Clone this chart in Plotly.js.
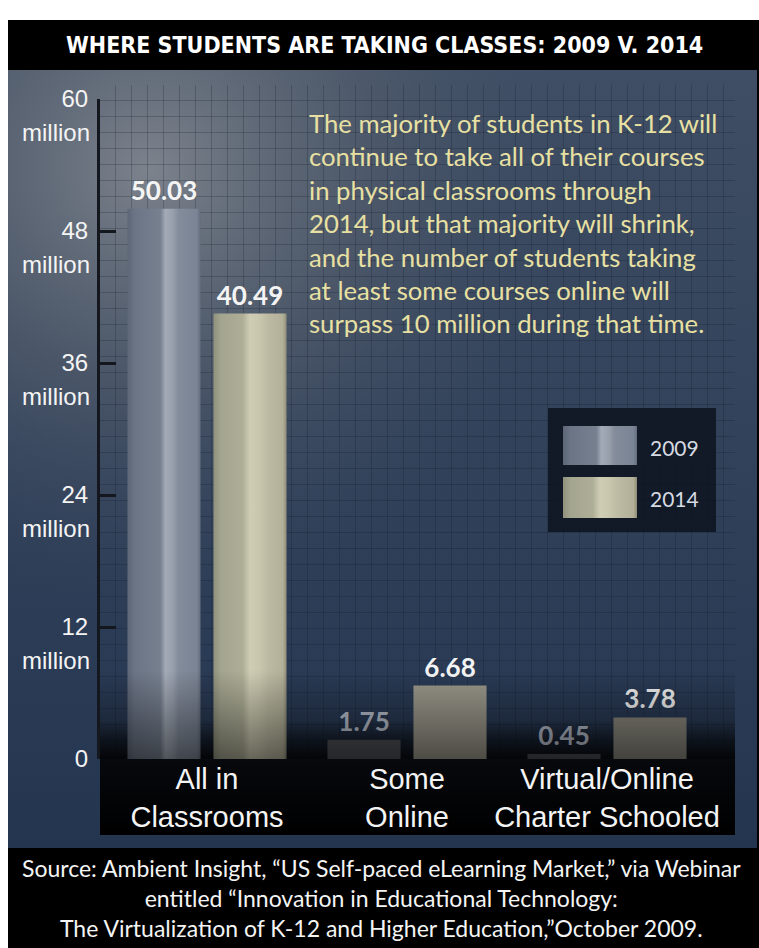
<!DOCTYPE html>
<html>
<head>
<meta charset="utf-8">
<script src="https://cdn.plot.ly/plotly-3.0.1.min.js"></script>
<style>
html,body{margin:0;padding:0;background:#ffffff;}
#wrap{position:relative;width:759px;height:948px;overflow:hidden;}
#bg,#fade{position:absolute;left:0;top:0;}
#fade{pointer-events:none;}
#chart{position:absolute;left:0;top:0;width:759px;height:948px;}
</style>
</head>
<body>
<div id="wrap">
<svg id="bg" width="759" height="948" viewBox="0 0 759 948">
  <defs>
    <linearGradient id="bodyV" x1="0" y1="0" x2="0" y2="1">
      <stop offset="0" stop-color="#3f4e64"/>
      <stop offset="1" stop-color="#243550"/>
    </linearGradient>
    <radialGradient id="glow" cx="150" cy="170" r="430" gradientUnits="userSpaceOnUse">
      <stop offset="0" stop-color="#80868f" stop-opacity="0.95"/>
      <stop offset="0.5" stop-color="#5f6773" stop-opacity="0.5"/>
      <stop offset="1" stop-color="#3e4d63" stop-opacity="0"/>
    </radialGradient>
    <pattern id="grid" width="16" height="16" patternUnits="userSpaceOnUse" x="100" y="85">
      <path d="M15.5 0 V16 M0 15.5 H16" stroke="rgba(10,18,32,0.22)" stroke-width="1" fill="none"/>
    </pattern>
    <linearGradient id="boxV" x1="0" y1="0" x2="0" y2="1">
      <stop offset="0" stop-color="#000" stop-opacity="0"/>
      <stop offset="0.35" stop-color="#000" stop-opacity="0.85"/>
      <stop offset="1" stop-color="#000" stop-opacity="1"/>
    </linearGradient>
  </defs>
  <rect x="8" y="20" width="751" height="928" fill="#000"/>
  <rect x="8" y="70" width="749" height="778" fill="url(#bodyV)"/>
  <rect x="8" y="70" width="749" height="778" fill="url(#glow)"/>
  <rect x="100" y="85" width="635" height="680" fill="url(#grid)"/>
  <rect x="100" y="720" width="635" height="115" fill="url(#boxV)"/>
</svg>
<div id="chart"></div>
<svg id="fade" width="759" height="948" viewBox="0 0 759 948">
  <defs>
    <linearGradient id="fadeV" x1="0" y1="0" x2="0" y2="1">
      <stop offset="0" stop-color="#000" stop-opacity="0"/>
      <stop offset="1" stop-color="#000" stop-opacity="0.5"/>
    </linearGradient>
  </defs>
  <rect x="100" y="670" width="635" height="89" fill="url(#fadeV)"/>
</svg>
</div>
<script>
// ---- data ----
const categories = ['All in Classrooms', 'Some Online', 'Virtual/Online Charter Schooled'];
const xTickText = ['All in<br>Classrooms', 'Some<br>Online', 'Virtual/Online<br>Charter Schooled'];
const seriesNames = ['2009', '2014'];
const values2009 = [50.03, 1.75, 0.45];
const values2014 = [40.49, 6.68, 3.78];
const yTickVals = [0, 12, 24, 36, 48, 60];
const yTickText = ['0', '12', '24', '36', '48', '60'];
const yTickUnit = 'million';

// ---- styles ----
const W = 759, H = 948;
const px = v => v / W;
const py = v => 1 - v / H;
const colors2009 = ['#737c8d', '#4a4d53', '#45484d'];
const colors2014 = ['#b4b29b', '#9a978a', '#86847a'];
const labelColors2009 = ['#f4f4f4', '#b8bfcc', '#b3bac7'];
const labelColors2014 = ['#f4f4f4', '#f4f4f4', '#f0f0f0'];
const legendColors = ['#7a8393', '#bdbba3'];
const sansFont = 'Liberation Sans, Arial, sans-serif';
const narrowFont = 'Liberation Sans Narrow, DejaVu Sans Condensed, Arial Narrow, sans-serif';
const myriadFont = 'Lato, Open Sans, sans-serif';

const traces = [
  {
    type: 'bar', name: seriesNames[0], x: categories, y: values2009,
    marker: {color: colors2009, line: {width: 0}},
    texttemplate: '<b>%{y:.2f}</b>', textposition: 'outside', constraintext: 'none',
    textfont: {family: myriadFont, size: 26, color: labelColors2009},
    cliponaxis: false, hoverinfo: 'skip'
  },
  {
    type: 'bar', name: seriesNames[1], x: categories, y: values2014,
    marker: {color: colors2014, line: {width: 0}},
    texttemplate: '<b>%{y:.2f}</b>', textposition: 'outside', constraintext: 'none',
    textfont: {family: myriadFont, size: 26, color: labelColors2014},
    cliponaxis: false, hoverinfo: 'skip'
  }
];

const annotations = [
  {
    xref: 'paper', yref: 'paper', x: px(384), y: py(45), xanchor: 'center', yanchor: 'middle',
    text: '<b>WHERE STUDENTS ARE TAKING CLASSES: 2009 V. 2014</b>', showarrow: false,
    font: {family: narrowFont, size: 23, color: '#ffffff'}
  },
  {
    xref: 'paper', yref: 'paper', x: px(307), y: py(106), xanchor: 'left', yanchor: 'top', align: 'left',
    text: 'The majority of students in K-12 will<br>continue to take all of their courses<br>in physical classrooms through<br>2014, but that majority will shrink,<br>and the number of students taking<br>at least some courses online will<br>surpass 10 million during that time.',
    showarrow: false, font: {family: myriadFont, size: 25.7, color: '#e8e0a2'}
  },
  {
    xref: 'paper', yref: 'paper', x: px(381), y: py(898), xanchor: 'center', yanchor: 'middle', align: 'center',
    text: 'Source: Ambient Insight, \u201cUS Self-paced eLearning Market,\u201d via Webinar<br>entitled \u201cInnovation in Educational Technology:<br>The Virtualization of K-12 and Higher Education,\u201dOctober 2009.',
    showarrow: false, font: {family: myriadFont, size: 23, color: '#f4f4f4'}
  },
  {
    xref: 'paper', yref: 'paper', x: px(648), y: py(447), xanchor: 'left', yanchor: 'middle',
    text: seriesNames[0], showarrow: false, font: {family: myriadFont, size: 21, color: '#d6dae2'}
  },
  {
    xref: 'paper', yref: 'paper', x: px(648), y: py(498), xanchor: 'left', yanchor: 'middle',
    text: seriesNames[1], showarrow: false, font: {family: myriadFont, size: 21, color: '#d6dae2'}
  }
];
yTickVals.forEach(v => {
  if (v > 0) {
    annotations.push({
      xref: 'paper', yref: 'y', x: px(100), y: v, xanchor: 'right', yanchor: 'middle',
      xshift: -8, yshift: -33, text: yTickUnit, showarrow: false,
      font: {family: sansFont, size: 24, color: '#f4f4f4'}
    });
  }
});

const shapes = [
  {type: 'rect', xref: 'paper', yref: 'paper', x0: px(548), x1: px(716), y0: py(408), y1: py(532),
   fillcolor: 'rgba(14,20,32,0.88)', line: {width: 0}, layer: 'below'},
  {type: 'rect', xref: 'paper', yref: 'paper', x0: px(563), x1: px(637), y0: py(426), y1: py(465),
   fillcolor: legendColors[0], line: {width: 0}, layer: 'above'},
  {type: 'rect', xref: 'paper', yref: 'paper', x0: px(563), x1: px(637), y0: py(477), y1: py(518),
   fillcolor: legendColors[1], line: {width: 0}, layer: 'above'}
];

const layout = {
  width: W, height: H,
  margin: {l: 0, r: 0, t: 0, b: 0},
  paper_bgcolor: 'rgba(0,0,0,0)', plot_bgcolor: 'rgba(0,0,0,0)',
  barmode: 'group', bargap: 0.14, bargroupgap: 0.15,
  showlegend: false,
  xaxis: {
    domain: [px(100), px(710)], range: [-0.535, 2.515], type: 'category',
    tickvals: categories, ticktext: xTickText,
    tickfont: {family: sansFont, size: 29, color: '#f4f4f4'},
    showgrid: false, zeroline: false, showline: false, ticks: '', fixedrange: true
  },
  yaxis: {
    domain: [1 - 759 / H, 1 - 99 / H], range: [0, 60],
    tickvals: yTickVals, ticktext: yTickText,
    tickfont: {family: sansFont, size: 24, color: '#f4f4f4'},
    showgrid: false, zeroline: false, showline: true, linecolor: '#14181e', linewidth: 3,
    ticks: 'inside', ticklen: 16, tickwidth: 3, tickcolor: '#14181e',
    ticklabelstandoff: 4, fixedrange: true
  },
  annotations: annotations,
  shapes: shapes
};

function addGradient(defs, id, stops) {
  const ns = 'http://www.w3.org/2000/svg';
  const g = document.createElementNS(ns, 'linearGradient');
  g.setAttribute('id', id);
  g.setAttribute('x1', '0'); g.setAttribute('y1', '0');
  g.setAttribute('x2', '1'); g.setAttribute('y2', '0');
  stops.forEach(s => {
    const st = document.createElementNS(ns, 'stop');
    st.setAttribute('offset', s[0]);
    st.setAttribute('stop-color', s[1]);
    g.appendChild(st);
  });
  defs.appendChild(g);
}

Plotly.newPlot('chart', traces, layout, {staticPlot: true, displayModeBar: false}).then(gd => {
  const svg = gd.querySelector('svg.main-svg');
  let defs = svg.querySelector('defs');
  if (!defs) { defs = document.createElementNS('http://www.w3.org/2000/svg', 'defs'); svg.insertBefore(defs, svg.firstChild); }
  addGradient(defs, 'grad2009', [[0, '#5d6677'], [0.1, '#6c7586'], [0.45, '#76808f'], [0.52, '#a3abb7'], [0.62, '#98a0ad'], [0.7, '#838c9b'], [0.95, '#7b8494'], [1, '#646d7d']]);
  addGradient(defs, 'grad2014', [[0, '#8f917c'], [0.1, '#a4a58f'], [0.4, '#aeae97'], [0.5, '#cfcdb4'], [0.62, '#c9c7ae'], [0.75, '#bcbaa2'], [0.95, '#b2b098'], [1, '#8e8c78']]);
  const ids = ['grad2009', 'grad2014'];
  gd.querySelectorAll('.barlayer .trace').forEach((tr, t) => {
    const p = tr.querySelectorAll('.point path');
    if (p[0]) p[0].style.fill = 'url(#' + ids[t] + ')';
  });
  gd.querySelectorAll('.shapelayer path').forEach(p => {
    const idx = p.getAttribute('data-index');
    if (idx === '1') p.style.fill = 'url(#grad2009)';
    if (idx === '2') p.style.fill = 'url(#grad2014)';
  });
});
</script>
</body>
</html>
